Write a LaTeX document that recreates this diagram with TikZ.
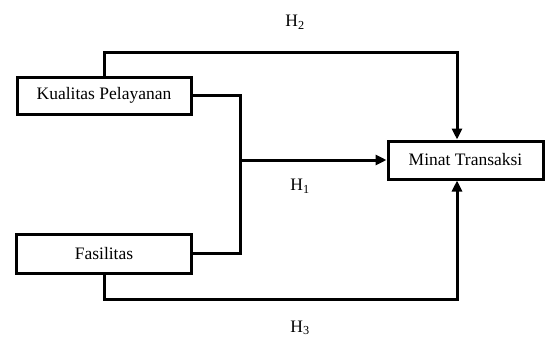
\documentclass[tikz,border=0pt]{standalone}
\usepackage{fontspec}
\setmainfont{Liberation Serif}
\usetikzlibrary{arrows.meta}
\begin{document}
\begin{tikzpicture}[x=1pt,y=-1pt,
  varbox/.style={draw, line width=3pt, minimum height=37pt, inner sep=0pt,
    font=\fontsize{17.5}{20}\selectfont},
  link/.style={line width=3pt},
  arr/.style={link, -{Triangle[length=11pt,width=10pt]}},
  hyp/.style={font=\fontsize{17.5}{20}\selectfont, inner sep=0pt}]
  \useasboundingbox (0,0) rectangle (545,340);
  \clip (0,0) rectangle (545,340);
  % variables
  \node[varbox, minimum width=174pt] (kp) at (104,95.5) {Kualitas Pelayanan};
  \node[varbox, minimum width=175pt, minimum height=39pt] (fas) at (104,253.5) {Fasilitas};
  \node[varbox, minimum width=155pt, minimum height=38pt] (mt) at (465.5,160) {Minat Transaksi};
  % routing points
  \coordinate (top) at (457,52);
  \coordinate (bot) at (457,299);
  \coordinate (j) at (240,160);
  % H1: joint path from both variables
  \draw[link] (kp.east |- 0,95) -- (240,95) -- (240,253) -- (fas.east |- 0,253);
  \draw[arr] (j) -- (mt.west);
  % H2
  \draw[arr] (kp.north) -- (kp.north |- top) -- (top) -- (top |- mt.north);
  % H3
  \draw[arr] (fas.south) -- (fas.south |- bot) -- (bot) -- (bot |- mt.south);
  % labels
  \node[hyp] (h2) at (295,22) {H\textsubscript{2}};
  \node[hyp] (h1) at (300,186) {H\textsubscript{1}};
  \node[hyp] (h3) at (300,328) {H\textsubscript{3}};
\end{tikzpicture}
\end{document}
